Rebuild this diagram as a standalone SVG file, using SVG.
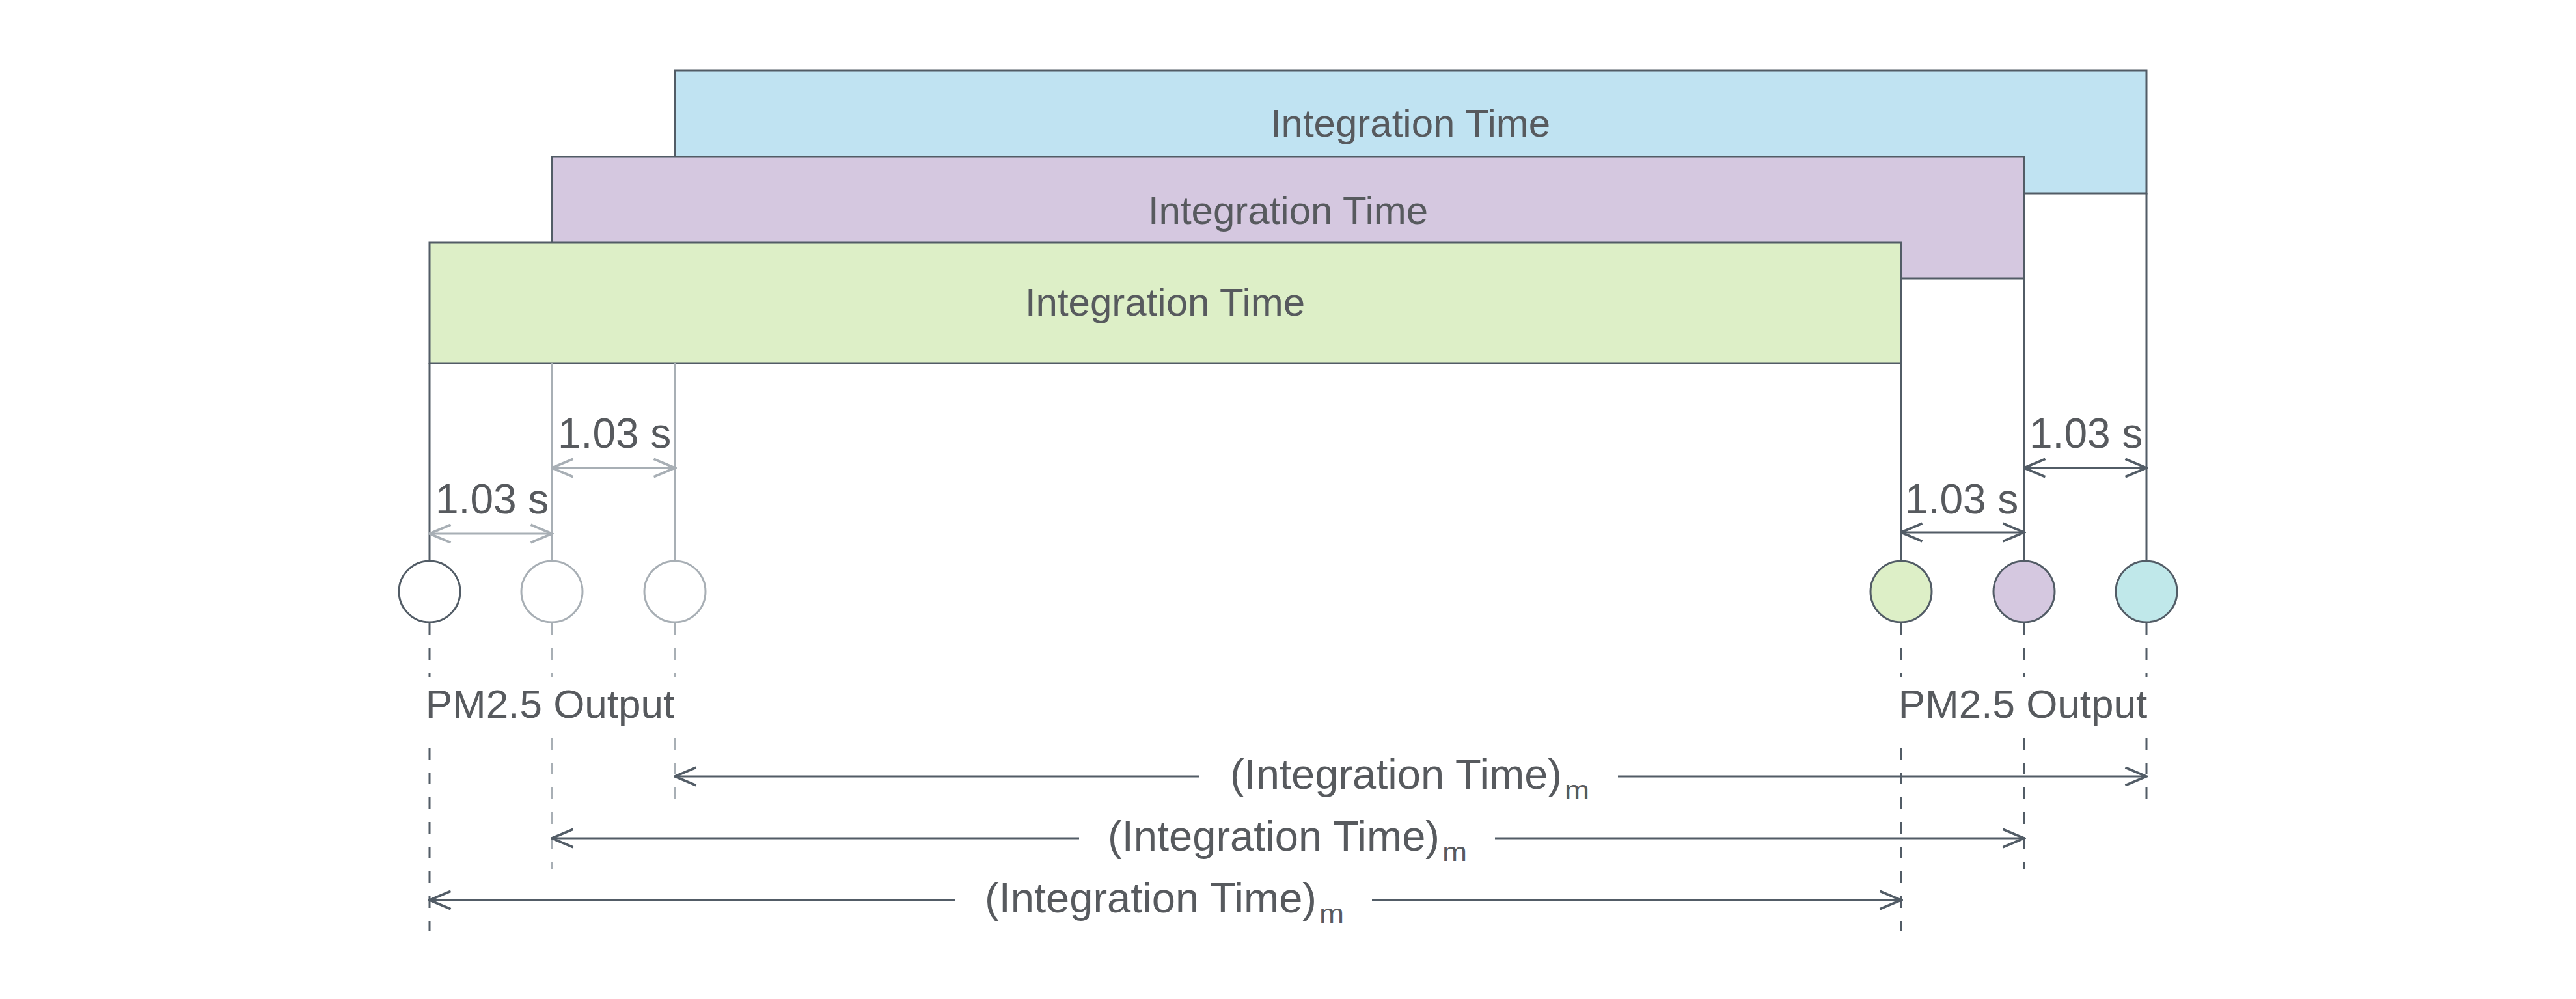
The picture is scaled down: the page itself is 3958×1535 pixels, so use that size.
<svg xmlns="http://www.w3.org/2000/svg" width="3958" height="1535" viewBox="0 0 3958 1535">
<style>
.r{stroke:#525c66;stroke-width:3}
.t{font-family:"Liberation Sans",Arial,sans-serif;fill:#575a5e}
.d{stroke:#525c66;stroke-width:3;fill:none}
.g{stroke:#a8afb5;stroke-width:3;fill:none}
.dash{stroke-dasharray:18 20}
</style>
<defs>
<marker id="ad" markerUnits="userSpaceOnUse" markerWidth="40" markerHeight="40" viewBox="-30 -15 32 30" refX="0" refY="0" orient="auto-start-reverse"><path d="M-26,-11 L0,0 L-26,11" fill="none" stroke="#525c66" stroke-width="3"/></marker>
<marker id="ag" markerUnits="userSpaceOnUse" markerWidth="40" markerHeight="40" viewBox="-30 -15 32 30" refX="0" refY="0" orient="auto-start-reverse"><path d="M-26,-11 L0,0 L-26,11" fill="none" stroke="#a8afb5" stroke-width="3"/></marker>
</defs>
<rect width="3958" height="1535" fill="#fff"/>
<g id="blue"><rect class="r" x="1037" y="108" width="2261" height="189" fill="#c0e3f2"/><text class="t" x="2167" y="210" font-size="60" text-anchor="middle">Integration Time</text></g>
<g id="purple"><rect class="r" x="848" y="241" width="2262" height="187" fill="#d5c8e0"/><text class="t" x="1979" y="344" font-size="60" text-anchor="middle">Integration Time</text></g>
<g id="green"><rect class="r" x="660" y="373" width="2261" height="185" fill="#ddefc7"/><text class="t" x="1790" y="485" font-size="60" text-anchor="middle">Integration Time</text></g>
<g id="connectors">
<line class="d" x1="660" y1="558" x2="660" y2="862"/>
<line class="g" x1="848" y1="558" x2="848" y2="862"/>
<line class="g" x1="1037" y1="558" x2="1037" y2="862"/>
<line class="d" x1="2921" y1="558" x2="2921" y2="862"/>
<line class="d" x1="3110" y1="428" x2="3110" y2="862"/>
<line class="d" x1="3298" y1="297" x2="3298" y2="862"/>
<line class="g" x1="660" y1="820" x2="848" y2="820" marker-start="url(#ag)" marker-end="url(#ag)"/>
<line class="g" x1="848" y1="719" x2="1037" y2="719" marker-start="url(#ag)" marker-end="url(#ag)"/>
<line class="d" x1="2921" y1="818" x2="3110" y2="818" marker-start="url(#ad)" marker-end="url(#ad)"/>
<line class="d" x1="3110" y1="719" x2="3298" y2="719" marker-start="url(#ad)" marker-end="url(#ad)"/>
<g stroke-width="2.5">
<line class="d dash" x1="660" y1="958" x2="660" y2="1040"/>
<line class="g dash" x1="848" y1="958" x2="848" y2="1040"/>
<line class="g dash" x1="1037" y1="958" x2="1037" y2="1040"/>
<line class="d dash" x1="2921" y1="958" x2="2921" y2="1040"/>
<line class="d dash" x1="3110" y1="958" x2="3110" y2="1040"/>
<line class="d dash" x1="3298" y1="958" x2="3298" y2="1040"/>
<line class="d dash" x1="660" y1="1149" x2="660" y2="1430"/>
<line class="g dash" x1="848" y1="1134" x2="848" y2="1336"/>
<line class="g dash" x1="1037" y1="1134" x2="1037" y2="1240"/>
<line class="d dash" x1="2921" y1="1149" x2="2921" y2="1430"/>
<line class="d dash" x1="3110" y1="1134" x2="3110" y2="1336"/>
<line class="d dash" x1="3298" y1="1134" x2="3298" y2="1240"/>
</g>
<line class="d" x1="1037" y1="1193" x2="1843" y2="1193" marker-start="url(#ad)"/>
<line class="d" x1="2486" y1="1193" x2="3298" y2="1193" marker-end="url(#ad)"/>
<line class="d" x1="848" y1="1288" x2="1658" y2="1288" marker-start="url(#ad)"/>
<line class="d" x1="2297" y1="1288" x2="3110" y2="1288" marker-end="url(#ad)"/>
<line class="d" x1="660" y1="1383" x2="1467" y2="1383" marker-start="url(#ad)"/>
<line class="d" x1="2108" y1="1383" x2="2921" y2="1383" marker-end="url(#ad)"/>
</g>
<g id="circles">
<circle cx="660" cy="909" r="47" fill="#fff" stroke="#525c66" stroke-width="3"/>
<circle cx="848" cy="909" r="47" fill="#fff" stroke="#a8afb5" stroke-width="3"/>
<circle cx="1037" cy="909" r="47" fill="#fff" stroke="#a8afb5" stroke-width="3"/>
<circle cx="2921" cy="909" r="47" fill="#ddefc7" stroke="#525c66" stroke-width="3"/>
<circle cx="3110" cy="909" r="47" fill="#d5c8e0" stroke="#525c66" stroke-width="3"/>
<circle cx="3298" cy="909" r="47" fill="#c0e8ea" stroke="#525c66" stroke-width="3"/>
</g>
<g id="labels" class="t">
<text x="669" y="789" font-size="64">1.03 s</text>
<text x="857" y="688" font-size="64">1.03 s</text>
<text x="2927" y="789" font-size="64">1.03 s</text>
<text x="3118" y="688" font-size="64">1.03 s</text>
<text x="845" y="1103" font-size="62" text-anchor="middle">PM2.5 Output</text>
<text x="3108" y="1103" font-size="62" text-anchor="middle">PM2.5 Output</text>
<text x="1890" y="1212" font-size="64" textLength="510" lengthAdjust="spacingAndGlyphs">(Integration Time)</text><text x="2404" y="1228" font-size="40" textLength="38" lengthAdjust="spacingAndGlyphs">m</text>
<text x="1702" y="1307" font-size="64" textLength="510" lengthAdjust="spacingAndGlyphs">(Integration Time)</text><text x="2216" y="1323" font-size="40" textLength="38" lengthAdjust="spacingAndGlyphs">m</text>
<text x="1513" y="1402" font-size="64" textLength="510" lengthAdjust="spacingAndGlyphs">(Integration Time)</text><text x="2027" y="1418" font-size="40" textLength="38" lengthAdjust="spacingAndGlyphs">m</text>
</g>
</svg>
